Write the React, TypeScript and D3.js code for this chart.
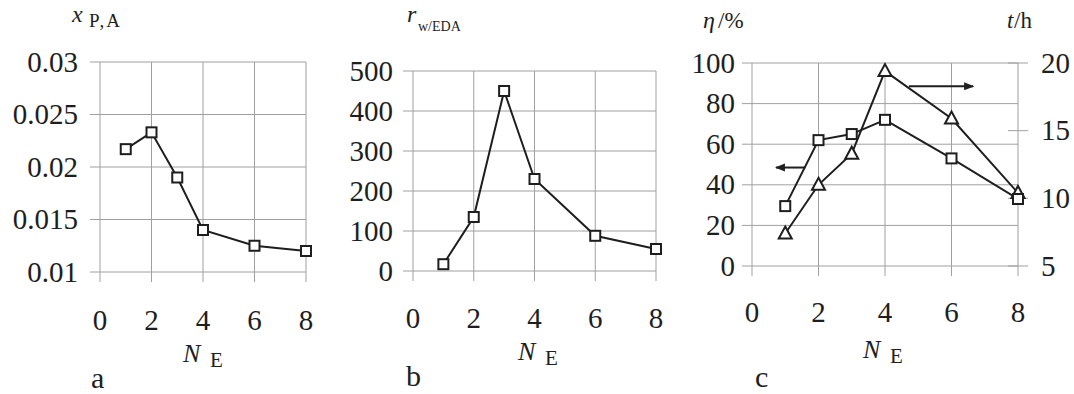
import React from "react";
import * as d3 from "d3";

// data
const nE = [1, 2, 3, 4, 6, 8];
const xTicks = [0, 2, 4, 6, 8];

const xPA = [0.0217, 0.0233, 0.019, 0.014, 0.0125, 0.012];
const xPATicks = [0.01, 0.015, 0.02, 0.025, 0.03];

const rEDA = [17, 135, 450, 230, 88, 55];
const rEDATicks = [0, 100, 200, 300, 400, 500];

const eta = [29.5, 62, 65, 72, 53, 33];
const etaTicks = [0, 20, 40, 60, 80, 100];
const tHours = [7.4, 11.0, 13.3, 19.4, 15.9, 10.4];
const tTicks = [5, 10, 15, 20];

const FONT = "Liberation Serif";
const GRID = "#a0a0a0";
const INK = "#1e1e1e";
const TICK_SIZE = 29;

type Txt = {
  x: number;
  y: number;
  size: number;
  anchor?: "start" | "middle" | "end";
  italic?: boolean;
  children: React.ReactNode;
  dy?: string;
  spacing?: number;
};

const T = ({ x, y, size, anchor = "start", italic, children, dy, spacing }: Txt) => (
  <text
    x={x}
    y={y}
    style={{ fontFamily: FONT, fontSize: size, fontStyle: italic ? "italic" : "normal", letterSpacing: spacing }}
    textAnchor={anchor}
    dy={dy}
    fill={INK}
  >
    {children}
  </text>
);

const square = (x: number, y: number, k: string) => (
  <rect key={k} x={x - 5} y={y - 5} width={10} height={10} fill="white" stroke={INK} strokeWidth={2} />
);

const triangle = (x: number, y: number, k: string) => (
  <path key={k} d={`M${x},${y - 7}L${x + 6.5},${y + 5}L${x - 6.5},${y + 5}Z`} fill="white" stroke={INK} strokeWidth={2} />
);

function Grid({
  x,
  y,
  yTicks,
  fmt,
  labelRight,
  xLabelY,
}: {
  x: d3.ScaleLinear<number, number>;
  y: d3.ScaleLinear<number, number>;
  yTicks: number[];
  fmt: (v: number) => string;
  labelRight: number;
  xLabelY: number;
}) {
  const [x0, x1] = x.range();
  const [y0, y1] = y.range();
  return (
    <g>
      {yTicks.map((t) => (
        <line key={"h" + t} x1={x0 - 10} x2={x1} y1={y(t)} y2={y(t)} stroke={GRID} strokeWidth={1} />
      ))}
      {xTicks.map((t) => (
        <line key={"v" + t} x1={x(t)} x2={x(t)} y1={y1} y2={y0 + 10} stroke={GRID} strokeWidth={1} />
      ))}
      {yTicks.map((t) => (
        <T key={"yl" + t} x={labelRight} y={y(t)} size={TICK_SIZE} anchor="end" dy="0.33em">
          {fmt(t)}
        </T>
      ))}
      {xTicks.map((t) => (
        <T key={"xl" + t} x={x(t)} y={xLabelY} size={TICK_SIZE} anchor="middle">
          {t}
        </T>
      ))}
    </g>
  );
}

const NE = ({ x, y }: { x: number; y: number }) => (
  <g>
    <T x={x} y={y} size={26} italic>
      N
    </T>
    <T x={x + 27} y={y + 5} size={21}>
      E
    </T>
  </g>
);

export default function App() {
  const lineGen = (xs: d3.ScaleLinear<number, number>, ys: d3.ScaleLinear<number, number>, vals: number[]) =>
    d3
      .line<number>()
      .x((_, i) => xs(nE[i]))
      .y((v) => ys(v))(vals) as string;

  // panel a
  const xa = d3.scaleLinear().domain([0, 8]).range([100, 306]);
  const ya = d3.scaleLinear().domain([0.01, 0.03]).range([272, 62]);
  // panel b
  const xb = d3.scaleLinear().domain([0, 8]).range([413, 656]);
  const yb = d3.scaleLinear().domain([0, 500]).range([271, 71]);
  // panel c
  const xc = d3.scaleLinear().domain([0, 8]).range([752, 1018]);
  const yc = d3.scaleLinear().domain([0, 100]).range([266, 63]);
  const yr = d3.scaleLinear().domain([5, 20]).range([266, 63]);

  return (
    <svg
      width={1074}
      height={394}
      style={{ position: "absolute", left: 0, top: 0, background: "white" }}
    >
      {/* a */}
      <Grid x={xa} y={ya} yTicks={xPATicks} fmt={(v) => String(+v.toFixed(3))} labelRight={78} xLabelY={330} />
      <path d={lineGen(xa, ya, xPA)} fill="none" stroke={INK} strokeWidth={2} />
      {xPA.map((v, i) => square(xa(nE[i]), ya(v), "a" + i))}
      <T x={72} y={22} size={24} italic>
        x
      </T>
      <T x={89} y={27} size={19} spacing={2}>
        P,A
      </T>
      <NE x={183} y={362} />
      <T x={91} y={388} size={30}>
        a
      </T>

      {/* b */}
      <Grid x={xb} y={yb} yTicks={rEDATicks} fmt={(v) => String(v)} labelRight={393} xLabelY={328} />
      <path d={lineGen(xb, yb, rEDA)} fill="none" stroke={INK} strokeWidth={2} />
      {rEDA.map((v, i) => square(xb(nE[i]), yb(v), "b" + i))}
      <T x={407} y={22} size={24} italic>
        r
      </T>
      <T x={418} y={31} size={14}>
        w/EDA
      </T>
      <NE x={518} y={360} />
      <T x={406} y={386} size={30}>
        b
      </T>

      {/* c */}
      <Grid x={xc} y={yc} yTicks={etaTicks} fmt={(v) => String(v)} labelRight={735} xLabelY={322} />
      {tTicks.map((t) => (
        <g key={"r" + t}>
          <line x1={xc(8) - 10} x2={xc(8) + 10} y1={yr(t)} y2={yr(t)} stroke={GRID} strokeWidth={1} />
          <T x={1041} y={yr(t)} size={TICK_SIZE} dy="0.33em">
            {t}
          </T>
        </g>
      ))}
      <path d={lineGen(xc, yc, eta)} fill="none" stroke={INK} strokeWidth={2} />
      <path d={lineGen(xc, yr, tHours)} fill="none" stroke={INK} strokeWidth={2} />
      {tHours.map((v, i) => triangle(xc(nE[i]), yr(v), "t" + i))}
      {eta.map((v, i) => square(xc(nE[i]), yc(v), "e" + i))}
      {/* arrows pointing to the axis each curve belongs to */}
      <defs>
        <marker id="ah" viewBox="0 0 10 10" refX={9} refY={5} markerWidth={5} markerHeight={5} orient="auto">
          <path d="M0,1L10,5L0,9Z" fill={INK} />
        </marker>
      </defs>
      <line x1={xc(1.6)} x2={xc(0.72)} y1={yc(48.5)} y2={yc(48.5)} stroke={INK} strokeWidth={2} markerEnd="url(#ah)" />
      <line x1={xc(4.72)} x2={xc(6.65)} y1={yc(88.5)} y2={yc(88.5)} stroke={INK} strokeWidth={2} markerEnd="url(#ah)" />
      <T x={703} y={28} size={24} italic>
        η
      </T>
      <T x={718} y={28} size={23}>
        /%
      </T>
      <T x={1007} y={28} size={23} italic>
        t
      </T>
      <T x={1014} y={28} size={23}>
        /h
      </T>
      <NE x={863} y={358} />
      <T x={755} y={387} size={30}>
        c
      </T>
    </svg>
  );
}
